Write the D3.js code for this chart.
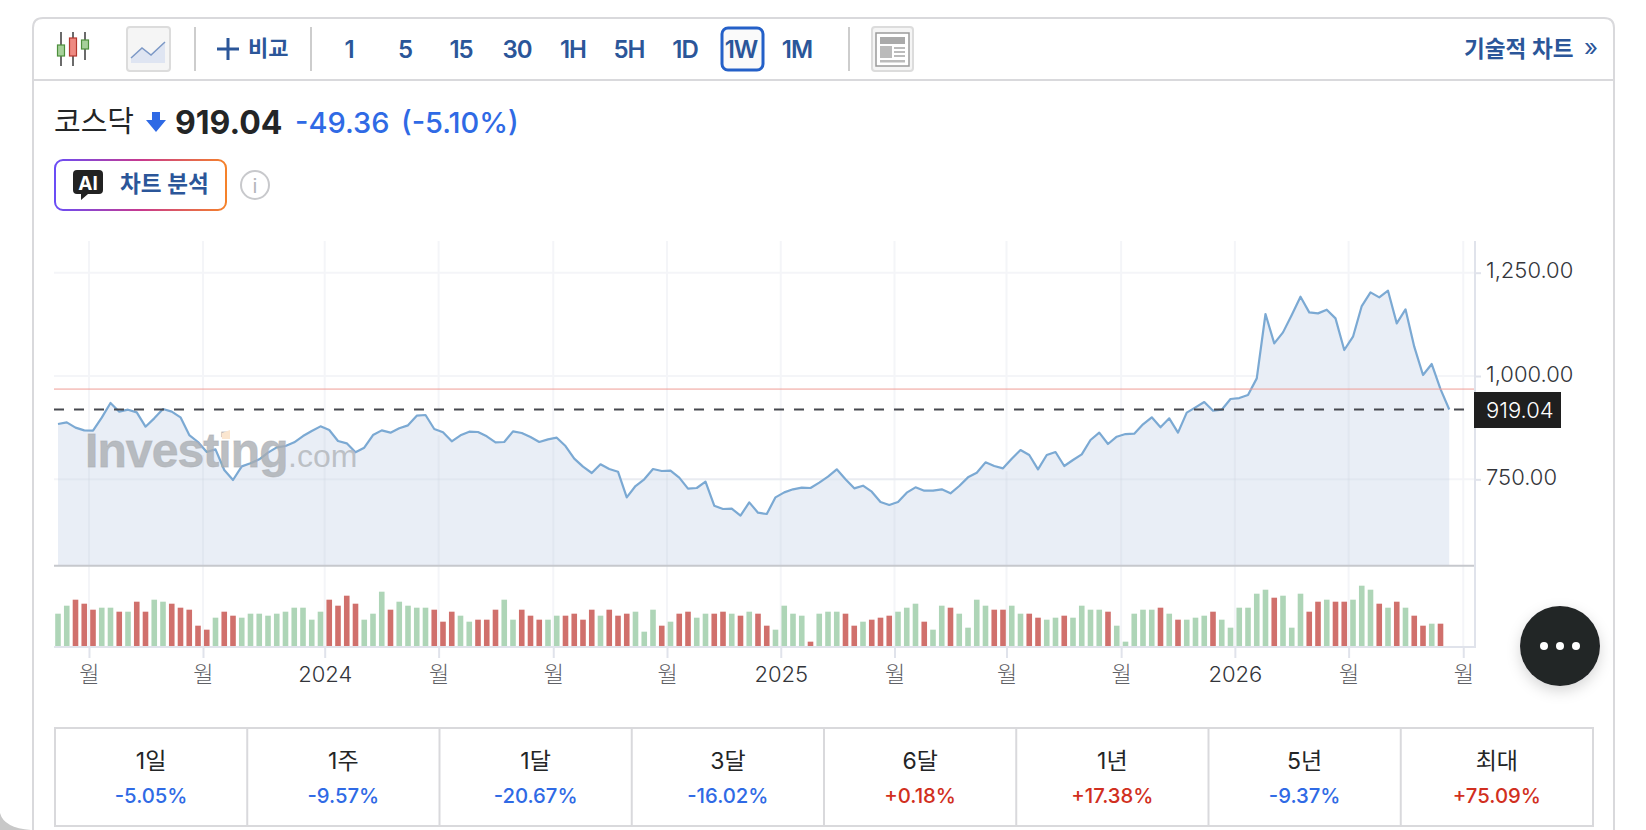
<!DOCTYPE html>
<html>
<head>
<meta charset="utf-8">
<script src="https://cdnjs.cloudflare.com/ajax/libs/d3/7.8.5/d3.min.js"></script>
<style>
html,body{margin:0;padding:0;background:#fff;overflow:hidden}
text{font-family:Inter,"Noto Sans CJK KR",sans-serif}
</style>
</head>
<body>
<div id="chart"></div>
<script>
//weekly close
var closes=[883.8,887.9,875,868.5,867.7,899.2,934.7,913.7,918.5,912.1,
877.4,897.6,920.1,913.7,900,857.2,840.3,816.1,822.5,772.5,
748.3,781.4,788.7,798.4,814.5,827.4,830.6,839.5,854.8,866.9,
878.2,869.3,842.7,837.1,815.3,826.6,857.2,868.5,862.9,873.4,
880.6,904,905.6,871.7,863.7,841.9,856.4,865.3,864.5,854,
839.5,840.3,866.1,862.1,852.4,840.3,846.7,850.8,830.6,800,
780.6,765.3,786.3,775,768.5,706.4,733.8,750,775,770.1,
770.9,754,727.4,729,744.3,686.3,678.2,679,662.1,694.3,
669.3,666.1,706.4,718.5,725.8,729.8,729,741.9,756.4,774.2,
750,728.2,734.6,720.1,695.1,687.9,695.1,717.7,730.6,722.5,
722.5,725.8,716.1,733.8,754.8,766.1,791.1,782.2,776.6,800,
820.9,808.8,774.2,808.8,816.1,782.2,796.7,810.5,845.1,862.9,
835.5,853.2,859.6,860.5,883,900,875.8,897.6,862.9,911.3,
924.2,937.1,916.1,918.5,944.3,946.7,954,994.3,1150,1079,
1105.6,1147.6,1191.9,1154,1151.6,1160.5,1139.5,1062.9,1095.1,1169.3,
1202.4,1190.3,1206.4,1127.4,1161.3,1071,1002.4,1029,968.4,919.04];

var volumes=[100,124,142,130,112,118,118,106,106,136,106,142,136,130,118,112,64,52,88,106,94,88,
100,100,94,100,106,118,118,82,106,142,124,154,130,82,100,166,112,136,124,118,118,112,
76,106,94,76,82,82,112,142,82,112,94,82,82,94,94,100,82,112,94,112,94,100,106,46,112,64,76,100,106,
88,100,100,106,100,94,106,100,64,52,124,100,94,16,100,106,106,
100,64,76,82,88,94,106,118,130,76,52,124,118,100,58,142,124,112,112,124,100,100,88,82,88,94,88,
124,112,112,106,64,16,100,112,112,118,100,82,82,88,94,106,82,58,118,
118,160,172,148,154,58,160,106,136,142,136,136,142,184,172,130,118,136,118,94,64,70,70];

//r = red bar, g = green bar
var volumeColors=("ggrrrggrgrrggrrrrrgrrggggggggggrrrrgggrggggr"
+"rrggrrrggrrrggrrrrgrrrgggrgrrggrrgrgrrggggrggg"
+"rrgrrrgggrggrggggrrggrrggrggggrgggggrgrgggrggg"
+"gggrgggrrgrrgggrgrgrrgr").split("");

var yTicks=[750,1000,1250];
var xTicks=[3.54,16.57,30.48,43.5,56.6,69.6,82.6,95.6,108.4,121.5,134.5,147.5,160.6];
var xLabels=["월","월","2024","월","월","월","2025","월","월","월","2026","월","월"];

var lastClose=919.04, prevClose=968.4;

var intervals=["1","5","15","30","1H","5H","1D","1W","1M"];
var periods=["1일","1주","1달","3달","6달","1년","5년","최대"];
var periodChanges=["-5.05%","-9.57%","-20.67%","-16.02%","+0.18%","+17.38%","-9.37%","+75.09%"];

var width=1646,height=830;
var navy="#2b5699",blue="#2f6ae5",red="#d12f20",ink="#232526",line="#d9d9dc";

var svg=d3.select("#chart").append("svg")
	.attr("width",width)
	.attr("height",height)
	.style("display","block");

var defs=svg.append("defs");
var grad=defs.append("linearGradient").attr("id","aiBorder")
	.attr("gradientUnits","userSpaceOnUse")
	.attr("x1",55).attr("x2",226).attr("y1",185).attr("y2",185);
grad.append("stop").attr("offset","0").attr("stop-color","#6a4df5");
grad.append("stop").attr("offset","0.5").attr("stop-color","#c7398f");
grad.append("stop").attr("offset","1").attr("stop-color","#f5822a");
var shadow=defs.append("filter").attr("id","softShadow")
	.attr("x","-30%").attr("y","-30%").attr("width","160%").attr("height","170%");
shadow.append("feDropShadow").attr("dx",0).attr("dy",5).attr("stdDeviation",7)
	.attr("flood-color","#000").attr("flood-opacity",0.16);

//window corner at bottom left
svg.append("path").attr("d","M0,813 Q4,828 31,830 L0,830 Z").attr("fill","#c8c8c8");

//card
svg.append("path")
	.attr("d","M33,830 L33,28 Q33,18 43,18 L1604,18 Q1614,18 1614,28 L1614,830")
	.attr("fill","#fff").attr("stroke",line).attr("stroke-width",2);
svg.append("line").attr("x1",33).attr("x2",1614).attr("y1",80).attr("y2",80)
	.attr("stroke",line).attr("stroke-width",2);

// ---- toolbar ----
var bar=svg.append("g");
[[61,32,66,45,56,"#a6d09a","#4d8f3c"],[73,32,66,38,56,"#ee8a82","#b3382f"],[85,32,60,40,49,"#a6d09a","#4d8f3c"]].forEach(function(c){
	bar.append("line").attr("x1",c[0]).attr("x2",c[0]).attr("y1",c[1]).attr("y2",c[2]).attr("stroke","#3a3a3a").attr("stroke-width",1.5);
	bar.append("rect").attr("x",c[0]-3.5).attr("y",c[3]).attr("width",7).attr("height",c[4]-c[3])
		.attr("fill",c[5]).attr("stroke",c[6]).attr("stroke-width",1.2);
});
function iconButton(x,w){
	bar.append("rect").attr("x",x).attr("y",27).attr("width",w).attr("height",44).attr("rx",3)
		.attr("fill","#f5f5f5").attr("stroke","#dcdcdc").attr("stroke-width",2);
}
iconButton(127,43);
bar.append("path").attr("d","M131,58 L142,48 L151,55 L165,42 L165,63 L131,63 Z").attr("fill","#dfe5f2");
bar.append("path").attr("d","M131,58 L142,48 L151,55 L165,42").attr("fill","none").attr("stroke","#7c98c6").attr("stroke-width",1.5);
[195,311,849].forEach(function(x){
	bar.append("line").attr("x1",x).attr("x2",x).attr("y1",27).attr("y2",71).attr("stroke","#bdbdbd").attr("stroke-width",1.5);
});
bar.append("path").attr("d","M217,49 H239 M228,38 V60").attr("stroke",navy).attr("stroke-width",3).attr("fill","none");
bar.append("text").attr("x",248).attr("y",56).text("비교")
	.attr("font-size",22).attr("font-weight",600).attr("fill",navy);

var xInterval=d3.scalePoint().domain(intervals).range([349,797]);
bar.append("rect").attr("x",722).attr("y",28).attr("width",41).attr("height",42).attr("rx",6)
	.attr("fill","#fafafa").attr("stroke","#2460c8").attr("stroke-width",3);
bar.selectAll(".interval").data(intervals).enter().append("text")
	.attr("class","interval")
	.attr("x",function(d){return xInterval(d)})
	.attr("y",58)
	.attr("text-anchor","middle")
	.attr("font-size",24).attr("font-weight",600).attr("letter-spacing",-1).attr("fill",navy)
	.text(function(d){return d});

iconButton(872,41);
bar.append("rect").attr("x",876).attr("y",33).attr("width",33).attr("height",33).attr("fill","#fff").attr("stroke","#9a9a9a").attr("stroke-width",1.5);
bar.append("rect").attr("x",880).attr("y",37).attr("width",25).attr("height",7).attr("fill","#aaa");
bar.append("rect").attr("x",880).attr("y",46).attr("width",12).attr("height",12).attr("fill","#bbb");
[47,51,55].forEach(function(y){
	bar.append("rect").attr("x",894).attr("y",y).attr("width",11).attr("height",2).attr("fill","#bbb");
});
bar.append("rect").attr("x",880).attr("y",60).attr("width",25).attr("height",2.5).attr("fill","#bbb");

bar.append("text").attr("x",1464).attr("y",57).text("기술적 차트")
	.attr("font-size",22.6).attr("font-weight",600).attr("fill",navy);
bar.append("text").attr("x",1584).attr("y",56).text("»")
	.attr("font-size",24).attr("fill",navy);

// ---- quote ----
var head=svg.append("g");
head.append("text").attr("x",54).attr("y",132).text("코스닥")
	.attr("font-size",29).attr("fill",ink);
head.append("path").attr("d","M152,112 H160 V120 H166 L156,132 L146,120 H152 Z").attr("fill",blue);
head.append("text").attr("x",175).attr("y",134).text("919.04")
	.attr("font-size",32).attr("font-weight",700).attr("fill",ink);
head.append("text").attr("x",295).attr("y",133).text("-49.36")
	.attr("font-size",29).attr("font-weight",500).attr("fill",blue);
head.append("text").attr("x",401).attr("y",133).text("(-5.10%)")
	.attr("font-size",29).attr("font-weight",500).attr("fill",blue);

head.append("rect").attr("x",55).attr("y",160).attr("width",171).attr("height",50).attr("rx",8)
	.attr("fill","#fff").attr("stroke","url(#aiBorder)").attr("stroke-width",2);
head.append("path").attr("d","M77,170 H99 Q103,170 103,174 V190 Q103,194 99,194 H88 L81,200 V194 H77 Q73,194 73,190 V174 Q73,170 77,170 Z").attr("fill","#222");
head.append("text").attr("x",88).attr("y",190).attr("text-anchor","middle").text("AI")
	.attr("font-size",19).attr("font-weight",700).attr("fill","#fff");
head.append("text").attr("x",120).attr("y",192).text("차트 분석")
	.attr("font-size",22.6).attr("font-weight",600).attr("fill",navy);
head.append("circle").attr("cx",255).attr("cy",185).attr("r",14)
	.attr("fill","#fff").attr("stroke","#c8c9cc").attr("stroke-width",2);
head.append("text").attr("x",255).attr("y",193).attr("text-anchor","middle").text("i")
	.attr("font-size",20).attr("fill","#b5b6ba");

// ---- chart ----
var x=d3.scaleLinear().domain([0,closes.length-1]).range([58,1449.25]);
var y=d3.scaleLinear().domain([541,1326.7]).range([565.7,241]);
var v=d3.scaleLinear().domain([0,184]).range([647,585.7]);

var chartLeft=54,chartRight=1475;

var gridLayer=svg.append("g");
gridLayer.selectAll(".hgrid").data(yTicks).enter().append("line")
	.attr("x1",chartLeft).attr("x2",chartRight)
	.attr("y1",function(d){return y(d)}).attr("y2",function(d){return y(d)})
	.attr("stroke","#f4f5f8").attr("stroke-width",2);
gridLayer.selectAll(".vgrid").data(xTicks).enter().append("line")
	.attr("x1",function(d){return x(d)}).attr("x2",function(d){return x(d)})
	.attr("y1",241).attr("y2",647)
	.attr("stroke","#f4f5f8").attr("stroke-width",2);

var area=d3.area()
	.x(function(d,i){return x(i)})
	.y0(y(541))
	.y1(function(d){return y(d)});
var priceLine=d3.line()
	.x(function(d,i){return x(i)})
	.y(function(d){return y(d)});

svg.append("path").datum(closes).attr("d",area).attr("fill","#e9eef6");

//grid shows faintly through the area
var overGrid=svg.append("g").attr("stroke","#cfd6e2").attr("stroke-opacity",0.3).attr("stroke-width",2);
overGrid.selectAll(".hg").data(yTicks).enter().append("line")
	.attr("x1",58).attr("x2",x(closes.length-1))
	.attr("y1",function(d){return y(d)}).attr("y2",function(d){return y(d)})
	.style("display",function(d){return d>=1000?"none":null});
overGrid.selectAll(".vg").data(xTicks.slice(0,12)).enter().append("line")
	.attr("x1",function(d){return x(d)}).attr("x2",function(d){return x(d)})
	.attr("y1",function(d,i){return y(closes[Math.round(d)])+3}).attr("y2",565);

svg.append("path").datum(closes).attr("d",priceLine)
	.attr("fill","none").attr("stroke","#7ba9d3").attr("stroke-width",2.2).attr("stroke-linejoin","round");

//previous close + last price
svg.append("line").attr("x1",chartLeft).attr("x2",chartRight)
	.attr("y1",y(prevClose)).attr("y2",y(prevClose))
	.attr("stroke","#ef9c95").attr("stroke-width",1);
svg.append("line").attr("x1",chartLeft).attr("x2",1464)
	.attr("y1",y(lastClose)).attr("y2",y(lastClose))
	.attr("stroke","#47494f").attr("stroke-width",2).attr("stroke-dasharray","10 10");

//watermark
var mark=svg.append("g");
mark.append("text").attr("x",85).attr("y",467).text("Investing")
	.style("font-family","'Liberation Sans'")
	.attr("font-size",48).attr("font-weight",700).attr("letter-spacing",-0.9)
	.attr("fill","#a9adb2").attr("fill-opacity",0.78)
	.attr("stroke","#a9adb2").attr("stroke-opacity",0.6).attr("stroke-width",0.8);
mark.append("path").attr("d","M222,433 L230,430 L230,439 L222,439 Z").attr("fill","#fbe6cf");
mark.append("text").attr("x",288).attr("y",467).text(".com")
	.style("font-family","'Liberation Sans'")
	.attr("font-size",32).attr("fill","#b4b8bd").attr("fill-opacity",0.85);

//pane lines
svg.append("line").attr("x1",chartLeft).attr("x2",chartRight).attr("y1",565.7).attr("y2",565.7)
	.attr("stroke","#c6c8cd").attr("stroke-width",2);

//volume
svg.selectAll(".vol").data(volumes).enter().append("rect")
	.attr("class","vol")
	.attr("x",function(d,i){return x(i)-2.8})
	.attr("width",5.6)
	.attr("y",function(d){return v(d)})
	.attr("height",function(d){return v(0)-v(d)})
	.attr("fill",function(d,i){return volumeColors[i]=="r"?"#d0706c":"#aed5b7"});

// axes
var yAxis=d3.axisRight(y).tickValues(yTicks).tickSize(6).tickSizeOuter(0).tickPadding(5)
	.tickFormat(function(d){return d3.format(",.2f")(d)});
var gy=svg.append("g").attr("transform","translate("+chartRight+",0)").call(yAxis);
gy.select(".domain").remove();
gy.selectAll(".tick line").attr("stroke","#e0e3eb").attr("stroke-width",2);
gy.selectAll(".tick text").attr("font-size",22).attr("font-weight",300).attr("fill","#33353a").attr("dy","0.24em");
svg.append("line").attr("x1",chartRight).attr("x2",chartRight).attr("y1",241).attr("y2",648)
	.attr("stroke","#e0e3eb").attr("stroke-width",2);

var xAxis=d3.axisBottom(x).tickValues(xTicks).tickSize(11).tickPadding(8)
	.tickFormat(function(d,i){return xLabels[i]});
var gx=svg.append("g").attr("transform","translate(0,647)").call(xAxis);
gx.select(".domain").remove();
gx.selectAll(".tick line").attr("stroke","#e0e3eb").attr("stroke-width",2);
gx.selectAll(".tick text").attr("font-size",22).attr("font-weight",300).attr("fill",function(d,i){return xLabels[i]=="월"?"#5f6166":"#33353a"});
svg.append("line").attr("x1",chartLeft).attr("x2",chartRight).attr("y1",647).attr("y2",647)
	.attr("stroke","#e0e3eb").attr("stroke-width",2);

//last price tag
svg.append("rect").attr("x",1474).attr("y",392).attr("width",87).attr("height",36).attr("fill","#1f1f1f");
svg.append("text").attr("x",1486).attr("y",418).text(d3.format(".2f")(lastClose))
	.attr("font-size",22).attr("font-weight",300).attr("fill","#fff");

//round menu button
svg.append("circle").attr("cx",1560).attr("cy",646).attr("r",40)
	.attr("fill","#232528").attr("filter","url(#softShadow)");
svg.selectAll(".dot").data([1544,1560,1576]).enter().append("circle")
	.attr("cx",function(d){return d}).attr("cy",646).attr("r",4).attr("fill","#fff");

// ---- period table ----
var xPeriod=d3.scaleBand().domain(periods).range([55,1593]);
var table=svg.append("g");
table.append("rect").attr("x",55).attr("y",728).attr("width",1538).attr("height",98)
	.attr("fill","#fff").attr("stroke",line).attr("stroke-width",2);
table.selectAll(".div").data(periods.slice(1)).enter().append("line")
	.attr("x1",function(d){return xPeriod(d)}).attr("x2",function(d){return xPeriod(d)})
	.attr("y1",728).attr("y2",826)
	.attr("stroke",line).attr("stroke-width",2);
table.selectAll(".plabel").data(periods).enter().append("text")
	.attr("x",function(d){return xPeriod(d)+xPeriod.bandwidth()/2})
	.attr("y",769)
	.attr("text-anchor","middle")
	.attr("font-size",23).attr("fill",ink)
	.text(function(d){return d});
table.selectAll(".pvalue").data(periodChanges).enter().append("text")
	.attr("x",function(d,i){return xPeriod(periods[i])+xPeriod.bandwidth()/2})
	.attr("y",803)
	.attr("text-anchor","middle")
	.attr("font-size",20.3).attr("font-weight",500)
	.attr("fill",function(d){return d.charAt(0)=="+"?red:blue})
	.text(function(d){return d});
</script>
</body>
</html>
